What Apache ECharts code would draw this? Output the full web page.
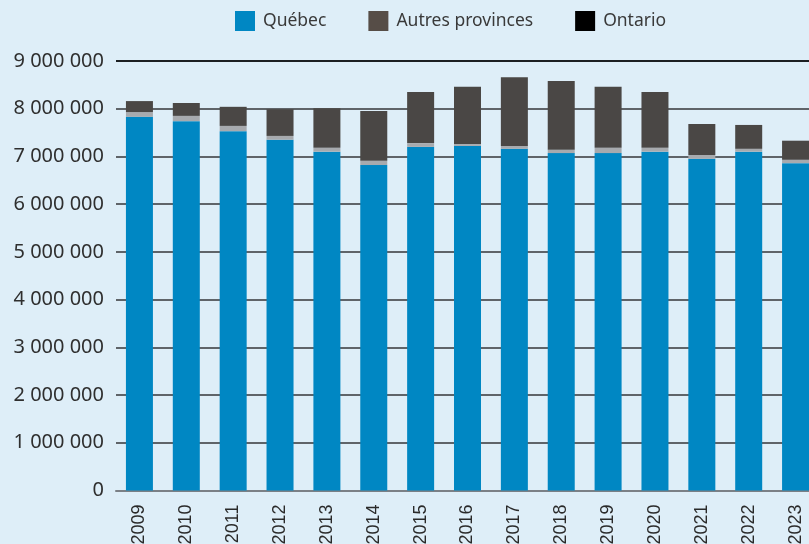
<!DOCTYPE html>
<html><head><meta charset="utf-8">
<script src="https://cdn.jsdelivr.net/npm/echarts@6/dist/echarts.min.js"></script>
<style>html,body{margin:0;padding:0;background:#deeef8;}#c{width:809px;height:544px;}</style>
</head><body><div id="c"></div>
<script>
const years = ['2009','2010','2011','2012','2013','2014','2015','2016','2017','2018','2019','2020','2021','2022','2023'];
const quebec = [7830000,7740000,7530000,7350000,7100000,6820000,7200000,7220000,7160000,7070000,7070000,7100000,6950000,7100000,6860000];
const ontario = [100000,110000,110000,80000,80000,90000,80000,40000,60000,70000,110000,80000,80000,60000,70000];
const autres = [230000,270000,400000,560000,830000,1040000,1070000,1200000,1440000,1440000,1280000,1170000,650000,500000,400000];
const yTicks = [0,1000000,2000000,3000000,4000000,5000000,6000000,7000000,8000000,9000000];

function fmt(v){return String(v).replace(/\B(?=(\d{3})+(?!\d))/g,' ');}

const gridColors = yTicks.map((v,i)=> i === yTicks.length-1 ? '#1c1f22' : '#5f6469');

const chart = echarts.init(document.getElementById('c'));
chart.setOption({
  backgroundColor:'#deeef8',
  animation:false,
  legend:{
    top:11, left:235, padding:0, itemWidth:20, itemHeight:20, itemGap:42, icon:'rect',
    textStyle:{fontFamily:'Noto Sans', fontSize:17.5, color:'#3a3a3a', padding:[0,0,0,3]},
    data:[
      {name:'Québec', itemStyle:{color:'#0087c3'}},
      {name:'Autres provinces', itemStyle:{color:'#564d47'}},
      {name:'Ontario', itemStyle:{color:'#000000'}}
    ]
  },
  grid:{left:116, right:-10, top:61, bottom:53.5, containLabel:false, outerBoundsMode:'none'},
  xAxis:{
    type:'category', data:years,
    axisLine:{show:true, lineStyle:{color:'#7b8086', width:2}},
    axisTick:{show:false},
    axisLabel:{rotate:90, fontFamily:'Liberation Sans, Arial, sans-serif', fontSize:18, color:'#2a2a2a', margin:14}
  },
  yAxis:{
    type:'value', min:0, max:9000000, interval:1000000,
    axisLine:{show:false}, axisTick:{show:false},
    axisLabel:{fontFamily:'Noto Sans', fontSize:20, color:'#2f2f2f', margin:12, formatter:fmt},
    splitLine:{lineStyle:{color:gridColors, width:2}}
  },
  series:[
    {name:'Québec', type:'bar', stack:'t', barWidth:27, data:quebec, itemStyle:{color:'#0087c3'}},
    {name:'Ontario', type:'bar', stack:'t', barWidth:27, data:ontario, itemStyle:{color:'#a7aaae'}},
    {name:'Autres provinces', type:'bar', stack:'t', barWidth:27, data:autres, itemStyle:{color:'#4a4745'}}
  ]
});
</script></body></html>
